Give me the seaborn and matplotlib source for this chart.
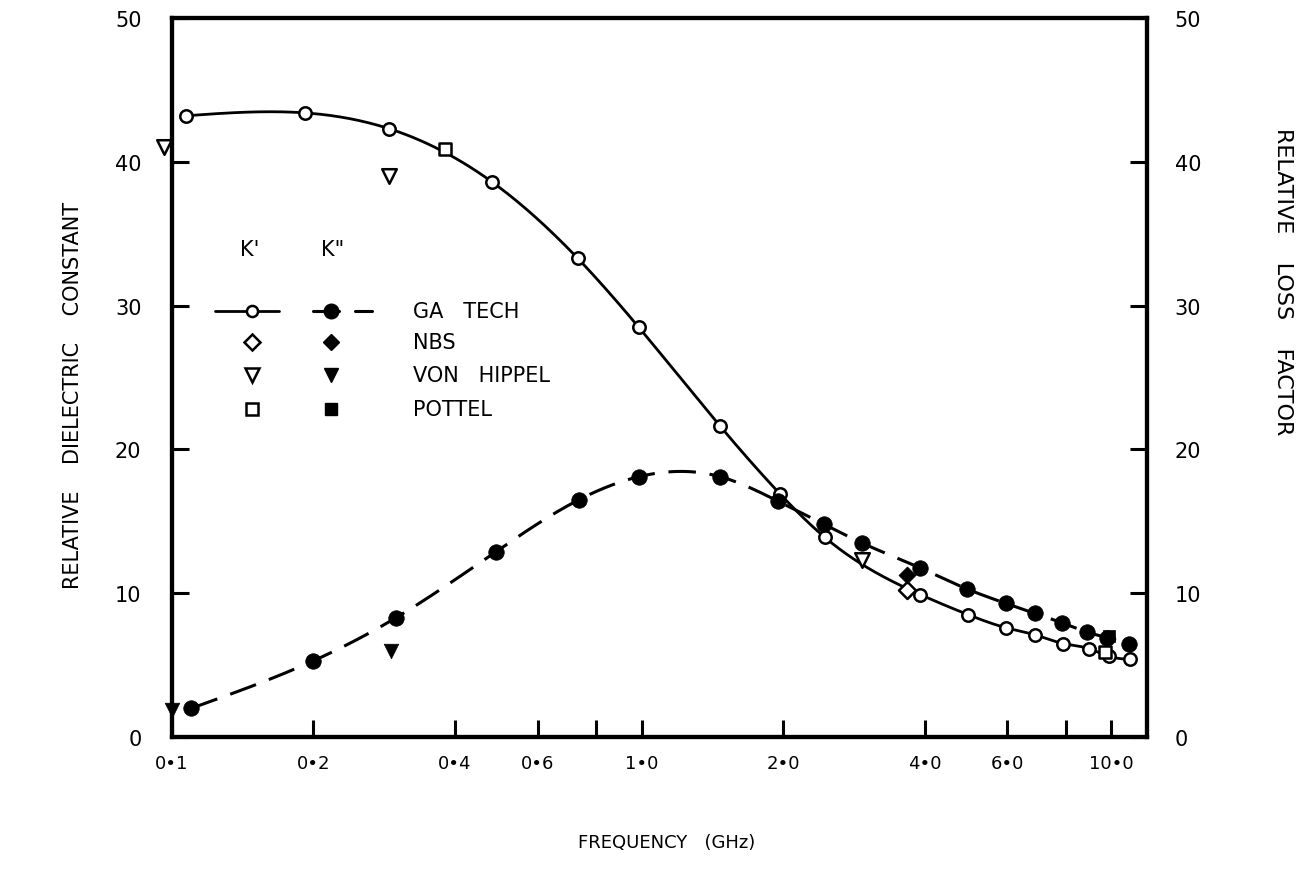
import numpy as np
import matplotlib
matplotlib.use("Agg")
import matplotlib.pyplot as plt
from matplotlib.ticker import NullLocator
import seaborn as sns

# ---- data: relative dielectric constant (K') and loss factor (K'') of water ----
ga_freq_k1 = [0.107, 0.192, 0.29, 0.48, 0.73, 0.985, 1.47, 1.97, 2.45,
              3.92, 4.96, 5.96, 6.88, 7.9, 8.94, 9.89, 10.96]
ga_k1 = [43.2, 43.4, 42.3, 38.6, 33.3, 28.5, 21.6, 16.9, 13.9,
         9.9, 8.5, 7.6, 7.1, 6.5, 6.15, 5.6, 5.4]

ga_freq_k2 = [0.11, 0.2, 0.3, 0.49, 0.735, 0.985, 1.47, 1.95, 2.44,
              2.94, 3.92, 4.92, 5.95, 6.86, 7.83, 8.87, 9.8, 10.88]
ga_k2 = [2.0, 5.3, 8.3, 12.9, 16.5, 18.1, 18.1, 16.4, 14.8,
         13.5, 11.75, 10.3, 9.3, 8.6, 7.95, 7.3, 6.9, 6.5]

nbs_freq = [3.67]
nbs_k1 = [10.2]
nbs_k2 = [11.3]

vh_freq_k1 = [0.096, 0.29, 2.94]
vh_k1 = [41.0, 39.0, 12.3]
vh_freq_k2 = [0.1, 0.293]
vh_k2 = [1.9, 6.0]

pottel_freq_k1 = [0.382, 9.7]
pottel_k1 = [40.9, 5.9]
pottel_freq_k2 = [9.9]
pottel_k2 = [7.0]

y_ticks = [0, 10, 20, 30, 40, 50]
x_ticks = [0.1, 0.2, 0.4, 0.6, 0.8, 1.0, 2.0, 4.0, 6.0, 8.0, 10.0]
x_tick_labels = ["0•1", "0•2", "0•4", "0•6", "", "1•0", "2•0", "4•0", "6•0", "", "10•0"]

legend_sources = ["GA   TECH", "NBS", "VON   HIPPEL", "POTTEL"]


def smooth_curve(x, y, n=400):
    """Natural cubic spline through the points, in log-frequency."""
    lx = np.log10(np.asarray(x, float))
    y = np.asarray(y, float)
    m = len(lx)
    h = np.diff(lx)
    A = np.zeros((m, m))
    r = np.zeros(m)
    A[0, 0] = A[-1, -1] = 1.0
    for i in range(1, m - 1):
        A[i, i - 1] = h[i - 1]
        A[i, i] = 2 * (h[i - 1] + h[i])
        A[i, i + 1] = h[i]
        r[i] = 3 * ((y[i + 1] - y[i]) / h[i] - (y[i] - y[i - 1]) / h[i - 1])
    c = np.linalg.solve(A, r)
    b = (y[1:] - y[:-1]) / h - h * (2 * c[:-1] + c[1:]) / 3
    d = (c[1:] - c[:-1]) / (3 * h)
    xs = np.linspace(lx[0], lx[-1], n)
    idx = np.clip(np.searchsorted(lx, xs) - 1, 0, m - 2)
    t = xs - lx[idx]
    ys = y[idx] + b[idx] * t + c[idx] * t ** 2 + d[idx] * t ** 3
    return 10 ** xs, ys


sns.set_theme(style="white")
ink = "black"
plt.rcParams["font.family"] = ["DejaVu Sans"]
plt.rcParams["text.color"] = ink
plt.rcParams["axes.labelcolor"] = ink
plt.rcParams["xtick.color"] = ink
plt.rcParams["ytick.color"] = ink

fig = plt.figure(figsize=(13.08, 8.79), dpi=100)
ax = fig.add_axes([0.1315, 0.1604, 0.7454, 0.818])

dash = (0, (9, 4.5))

# smooth curves
xs1, ys1 = smooth_curve(ga_freq_k1, ga_k1)
sns.lineplot(x=xs1, y=ys1, ax=ax, color=ink, lw=2.0, sort=False, estimator=None, zorder=2)
xs2, ys2 = smooth_curve(ga_freq_k2, ga_k2)
sns.lineplot(x=xs2, y=ys2, ax=ax, color=ink, lw=2.2, sort=False, estimator=None, zorder=2)
ax.lines[-1].set_linestyle(dash)

# measured points
open_kw = dict(facecolor="white", edgecolor=ink, linewidth=1.8, zorder=4, clip_on=False)
fill_kw = dict(color=ink, edgecolor=ink, linewidth=0.5, zorder=4, clip_on=False)

sns.scatterplot(x=ga_freq_k1, y=ga_k1, marker="o", s=80, ax=ax, **open_kw)
sns.scatterplot(x=ga_freq_k2, y=ga_k2, marker="o", s=125, ax=ax, **fill_kw)
sns.scatterplot(x=nbs_freq, y=nbs_k1, marker="D", s=75, ax=ax, **open_kw)
sns.scatterplot(x=nbs_freq, y=nbs_k2, marker="D", s=75, ax=ax, **fill_kw)
sns.scatterplot(x=vh_freq_k1, y=vh_k1, marker="v", s=110, ax=ax, **open_kw)
sns.scatterplot(x=vh_freq_k2, y=vh_k2, marker="v", s=110, ax=ax, **fill_kw)
sns.scatterplot(x=pottel_freq_k1, y=pottel_k1, marker="s", s=80, ax=ax, **open_kw)
sns.scatterplot(x=pottel_freq_k2, y=pottel_k2, marker="s", s=80, ax=ax, **fill_kw)

# axes
ax.set_xscale("log")
ax.set_xlim(0.1, 11.9)
ax.set_ylim(0, 50)
ax.xaxis.set_minor_locator(NullLocator())
ax.set_xticks(x_ticks)
ax.set_xticklabels(x_tick_labels)
ax.set_yticks(y_ticks)
ax.set_yticklabels([str(v) for v in y_ticks])
ax.tick_params(axis="x", direction="in", length=12, width=2.2, pad=12,
               labelsize=13, colors=ink, bottom=True)
ax.tick_params(axis="y", direction="in", length=12, width=2.2, pad=22,
               labelsize=15, colors=ink, left=True)
ax.set_xlabel("")
ax.set_ylabel("")
for s in ax.spines.values():
    s.set_linewidth(3.0)
    s.set_color(ink)
    s.set_visible(True)

ax2 = ax.twinx()
ax2.set_ylim(0, 50)
ax2.set_yticks(y_ticks)
ax2.set_yticklabels([str(v) for v in y_ticks])
ax2.tick_params(axis="y", direction="in", length=12, width=2.2, pad=20,
                labelsize=15, colors=ink, right=True)
ax2.grid(False)
for s in ax2.spines.values():
    s.set_linewidth(3.0)
    s.set_color(ink)

# legend, drawn by hand in axes fraction
T = ax.transAxes
ax.text(0.080, 0.679, "K'", transform=T, ha="center", va="center", fontsize=15, color=ink)
ax.text(0.165, 0.679, 'K"', transform=T, ha="center", va="center", fontsize=15, color=ink)
row_y = [0.593, 0.549, 0.503, 0.456]
c1, c2 = 0.0817, 0.1628
ax.plot([0.044, 0.110], [row_y[0]] * 2, transform=T, color=ink, lw=2.0)
ax.plot([c1], [row_y[0]], transform=T, marker="o", ms=8, mfc="white", mec=ink, mew=1.8)
ax.plot([0.1446, 0.171], [row_y[0]] * 2, transform=T, color=ink, lw=2.2)
ax.plot([0.1877, 0.205], [row_y[0]] * 2, transform=T, color=ink, lw=2.2)
ax.plot([c2], [row_y[0]], transform=T, marker="o", ms=10.5, color=ink)
ax.plot([c1], [row_y[1]], transform=T, marker="D", ms=8, mfc="white", mec=ink, mew=1.8)
ax.plot([c2], [row_y[1]], transform=T, marker="D", ms=8.5, color=ink)
ax.plot([c1], [row_y[2]], transform=T, marker="v", ms=9.5, mfc="white", mec=ink, mew=1.8)
ax.plot([c2], [row_y[2]], transform=T, marker="v", ms=10, color=ink)
ax.plot([c1], [row_y[3]], transform=T, marker="s", ms=8, mfc="white", mec=ink, mew=1.8)
ax.plot([c2], [row_y[3]], transform=T, marker="s", ms=9, color=ink)
for yy, name in zip(row_y, legend_sources):
    ax.text(0.247, yy, name, transform=T, ha="left", va="center", fontsize=15, color=ink)

# axis titles
fig.text(0.056, 0.55, "RELATIVE    DIELECTRIC    CONSTANT", rotation=90,
         ha="center", va="center", fontsize=15, color=ink)
fig.text(0.981, 0.679, "RELATIVE    LOSS    FACTOR", rotation=-90,
         ha="center", va="center", fontsize=16, color=ink)
fig.text(0.51, 0.041, "FREQUENCY   (GHz)", ha="center", va="center", fontsize=13, color=ink)

fig.savefig("out.png", dpi=100, facecolor="white")
